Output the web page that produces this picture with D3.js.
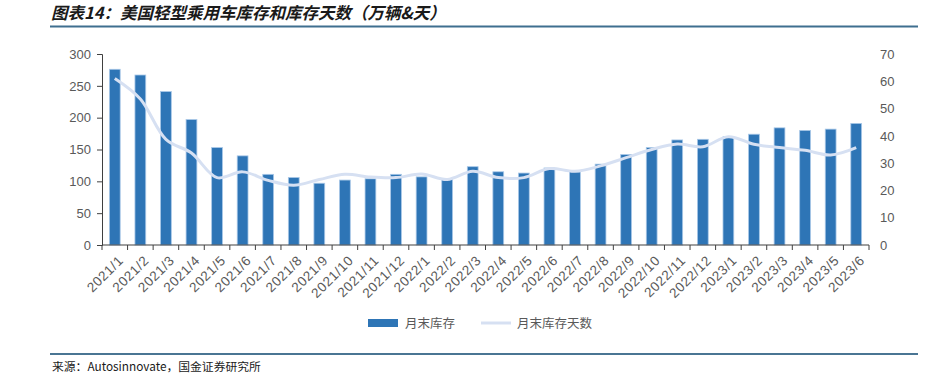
<!DOCTYPE html>
<html>
<head>
<meta charset="utf-8">
<script src="https://cdn.jsdelivr.net/npm/d3@7"></script>
<style>
  body { margin: 0; background: #fff; }
  svg text { font-family: "Liberation Sans", Arial, sans-serif; }
</style>
</head>
<body>
<div id="container"></div>
<script>
//chart data
var months = ["2021/1","2021/2","2021/3","2021/4","2021/5","2021/6","2021/7","2021/8","2021/9","2021/10","2021/11","2021/12",
              "2022/1","2022/2","2022/3","2022/4","2022/5","2022/6","2022/7","2022/8","2022/9","2022/10","2022/11","2022/12",
              "2023/1","2023/2","2023/3","2023/4","2023/5","2023/6"];
var inventory = [276, 267, 241, 197, 153, 140, 111, 106, 97, 102, 104, 111,
                 107, 104, 123, 115, 113, 121, 115, 127, 142, 153, 165, 166,
                 170, 174, 184, 180, 182, 191];
var days = [61, 53.5, 38.7, 33.7, 24.7, 26.8, 23.7, 21.9, 24, 25.9, 24.9, 24.7,
            26, 24, 27, 24.7, 24.7, 28, 27, 29, 32, 35, 37, 36,
            39.7, 36.9, 35.7, 34.7, 33, 35.7];
var leftTicks = [0, 50, 100, 150, 200, 250, 300];
var rightTicks = [0, 10, 20, 30, 40, 50, 60, 70];

var W = 941, H = 375;
var margin = {top: 54, right: 72, bottom: 130, left: 102};
var width = 869 - margin.left;
var height = 245 - margin.top;

var svg = d3.select("#container").append("svg")
    .attr("width", W).attr("height", H);

//title + rule
svg.append("text")
    .attr("x", 51).attr("y", 19)
    .style("font-family", "'Noto Sans CJK SC', sans-serif")
    .style("font-size", "16.5px")
    .style("font-weight", "bold")
    .style("font-style", "italic")
    .attr("fill", "#1a1a1a")
    .text("图表14：美国轻型乘用车库存和库存天数（万辆&天）");
svg.append("line")
    .attr("x1", 50).attr("x2", 918).attr("y1", 26.5).attr("y2", 26.5)
    .attr("stroke", "#3f6f8f").attr("stroke-width", 2);

var g = svg.append("g")
    .attr("transform", "translate(" + margin.left + "," + margin.top + ")");

//scales
var xb = d3.scaleBand().domain(months).range([0, width]);
var y = d3.scaleLinear().domain([0, 300]).range([height, 0]);
var y2 = d3.scaleLinear().domain([0, 70]).range([height, 0]);

//bars
g.append("g").selectAll("rect")
    .data(inventory)
    .enter().append("rect")
    .attr("x", function(d, i) { return xb(months[i]) + xb.bandwidth() / 2 - 5.4; })
    .attr("width", 10.8)
    .attr("y", function(d) { return y(d); })
    .attr("height", function(d) { return height - y(d); })
    .attr("fill", "#2e75b6")
    .attr("stroke", "#a9c8e8")
    .attr("stroke-width", 0.8);

//days line
var line = d3.line()
    .x(function(d, i) { return xb(months[i]) + xb.bandwidth() / 2; })
    .y(function(d) { return y2(d); })
    .curve(d3.curveCatmullRom.alpha(0.5));
g.append("path")
    .datum(days)
    .attr("d", line)
    .attr("fill", "none")
    .attr("stroke", "#d6e0f2")
    .attr("stroke-width", 3);

//left axis
var la = g.append("g")
    .call(d3.axisLeft(y).tickValues(leftTicks).tickSize(5).tickPadding(6));
la.select(".domain").attr("stroke", "#404040");
la.selectAll(".tick line").attr("stroke", "#404040");
la.selectAll("text").style("font-size", "13px").attr("fill", "#595959");

//right axis (labels only)
var ra = g.append("g")
    .attr("transform", "translate(" + width + ",0)")
    .call(d3.axisRight(y2).tickValues(rightTicks).tickSize(0).tickPadding(11));
ra.select(".domain").remove();
ra.selectAll("text").style("font-size", "13px").attr("fill", "#595959");

//bottom axis
var ticksX = months.map(function(m) { return xb(m); }).concat([width]);
var bx = g.append("g").attr("transform", "translate(0," + height + ")");
bx.append("line").attr("x1", 0).attr("x2", width).attr("stroke", "#404040").attr("stroke-width", 1.2);
bx.selectAll(".tk").data(ticksX).enter().append("line")
    .attr("x1", function(d) { return d; }).attr("x2", function(d) { return d; })
    .attr("y1", 0).attr("y2", 5)
    .attr("stroke", "#404040");
bx.selectAll(".lbl").data(months).enter().append("text")
    .attr("transform", function(d) {
        return "translate(" + (xb(d) + xb.bandwidth() / 2 + 6) + ",13) rotate(-45)";
    })
    .attr("text-anchor", "end")
    .attr("dy", "0.35em")
    .style("font-size", "13.5px")
    .style("letter-spacing", "0.6px")
    .attr("fill", "#595959")
    .text(function(d) { return d; });

//legend
var lg = svg.append("g").attr("transform", "translate(368,323)");
lg.append("rect").attr("x", 0).attr("y", -4).attr("width", 30).attr("height", 8).attr("fill", "#2e75b6");
lg.append("text").attr("x", 37).attr("y", 5)
    .style("font-family", "'Noto Sans CJK SC', sans-serif").style("font-size", "12.5px")
    .attr("fill", "#595959").text("月末库存");
lg.append("line").attr("x1", 113).attr("x2", 143).attr("y1", 0).attr("y2", 0)
    .attr("stroke", "#d6e0f2").attr("stroke-width", 3);
lg.append("text").attr("x", 149).attr("y", 5)
    .style("font-family", "'Noto Sans CJK SC', sans-serif").style("font-size", "12.5px")
    .attr("fill", "#595959").text("月末库存天数");

//source
svg.append("line")
    .attr("x1", 50).attr("x2", 918).attr("y1", 354).attr("y2", 354)
    .attr("stroke", "#4a7593").attr("stroke-width", 2);
svg.append("text")
    .attr("x", 52).attr("y", 371)
    .style("font-family", "'Noto Sans CJK SC', sans-serif")
    .style("font-size", "11.8px")
    .attr("fill", "#1a1a1a")
    .text("来源：Autosinnovate，国金证券研究所");
</script>
</body>
</html>
